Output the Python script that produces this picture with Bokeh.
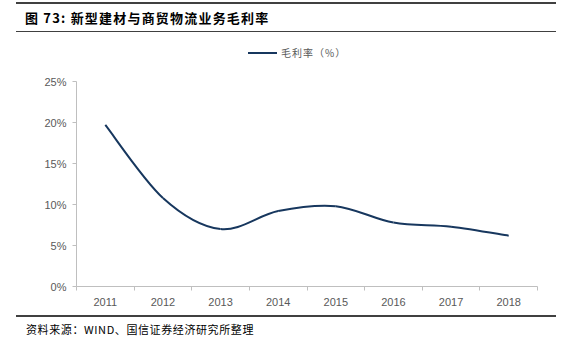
from bokeh.plotting import figure
from bokeh.models import FixedTicker, ColumnDataSource, Div
from bokeh.layouts import column
from bokeh.embed import file_html
from bokeh.resources import INLINE

years = ["2011", "2012", "2013", "2014", "2015", "2016", "2017", "2018"]
margin = [19.7, 10.8, 7.0, 9.2, 9.8, 7.8, 7.3, 6.2]
y_ticks = [0, 5, 10, 15, 20, 25]
y_labels = ["0%", "5%", "10%", "15%", "20%", "25%"]
title_text = "图 73:&nbsp;新型建材与商贸物流业务毛利率"
source_text = "资料来源：WIND、国信证券经济研究所整理"
series_name = "毛利率（%）"

W = 571
line_color = "#17375E"
axis_color = "#BFBFBF"
label_color = "#595959"
CJK = "'Noto Sans CJK SC', sans-serif"

HEAD_H, FIG_H, FOOT_H = 62, 248, 47
header = Div(width=W, height=HEAD_H, margin=(0, 0, 0, 0), text=f"""
<div style="position:relative;width:{W}px;height:{HEAD_H}px;margin:0;padding:0;">
  <div style="position:absolute;left:16px;top:2px;width:540px;height:2px;background:#404040;"></div>
  <div style="position:absolute;left:25px;top:8px;font-family:{CJK};font-weight:bold;font-size:13px;
       line-height:20px;letter-spacing:1.2px;color:#000;white-space:nowrap;">{title_text}</div>
  <div style="position:absolute;left:16px;top:31px;width:540px;height:1px;background:#404040;"></div>
  <div style="position:absolute;left:248px;top:52px;width:29px;height:2px;background:{line_color};"></div>
  <div style="position:absolute;left:281px;top:45px;font-family:{CJK};font-size:10px;line-height:16px;
       letter-spacing:1px;color:{label_color};white-space:nowrap;">{series_name}</div>
</div>""")

FL, FT, FB = 76, 81 - HEAD_H, 286 - HEAD_H
p = figure(width=W, height=FIG_H, output_backend="svg", toolbar_location=None,
           x_range=(0, len(years)), y_range=(0, 25), margin=(0, 0, 0, 0),
           min_border_left=FL, min_border_right=34, min_border_top=FT, min_border_bottom=FIG_H - FB)
p.outline_line_color = None
p.grid.visible = False
p.background_fill_color = "white"
p.border_fill_color = "white"

xs = [i + 0.5 for i in range(len(years))]
n = len(xs)
x0, y0, x1, y1, cx0, cy0, cx1, cy1 = [], [], [], [], [], [], [], []
for i in range(n - 1):
    pm = i - 1 if i > 0 else i
    pp = i + 2 if i + 2 < n else i + 1
    x0.append(xs[i]); y0.append(margin[i]); x1.append(xs[i + 1]); y1.append(margin[i + 1])
    cx0.append(xs[i] + (xs[i + 1] - xs[pm]) / 6); cy0.append(margin[i] + (margin[i + 1] - margin[pm]) / 6)
    cx1.append(xs[i + 1] - (xs[pp] - xs[i]) / 6); cy1.append(margin[i + 1] - (margin[pp] - margin[i]) / 6)
src = ColumnDataSource(dict(x0=x0, y0=y0, x1=x1, y1=y1, cx0=cx0, cy0=cy0, cx1=cx1, cy1=cy1))
p.bezier(x0="x0", y0="y0", x1="x1", y1="y1", cx0="cx0", cy0="cy0", cx1="cx1", cy1="cy1",
         source=src, line_color=line_color, line_width=2)

xa = p.xaxis[0]
xa.ticker = FixedTicker(ticks=xs, minor_ticks=list(range(len(years) + 1)))
xa.major_label_overrides = {x: y for x, y in zip(xs, years)}
xa.major_tick_line_color = None
xa.minor_tick_line_color = axis_color
xa.minor_tick_out = 4
xa.minor_tick_in = 0
xa.axis_line_color = axis_color
xa.major_label_text_color = label_color
xa.major_label_text_font = "Liberation Sans"
xa.major_label_text_font_size = "11px"
xa.major_label_standoff = 5

ya = p.yaxis[0]
ya.ticker = FixedTicker(ticks=y_ticks, minor_ticks=[])
ya.major_label_overrides = {t: l for t, l in zip(y_ticks, y_labels)}
ya.major_tick_line_color = axis_color
ya.major_tick_out = 4
ya.major_tick_in = 0
ya.minor_tick_line_color = None
ya.axis_line_color = axis_color
ya.major_label_text_color = label_color
ya.major_label_text_font = "Liberation Sans"
ya.major_label_text_font_size = "11px"
ya.major_label_standoff = 6

footer = Div(width=W, height=FOOT_H, margin=(0, 0, 0, 0), text=f"""
<div style="position:relative;width:{W}px;height:{FOOT_H}px;margin:0;padding:0;">
  <div style="position:absolute;left:16px;top:5px;width:540px;height:2px;background:#404040;"></div>
  <div style="position:absolute;left:26px;top:11px;font-family:{CJK};font-size:11px;line-height:16px;
       letter-spacing:0.6px;color:#000;white-space:nowrap;">{source_text}</div>
</div>""")

layout = column(header, p, footer, spacing=0, margin=(0, 0, 0, 0))
open("out.html", "w").write(file_html(layout, INLINE))
